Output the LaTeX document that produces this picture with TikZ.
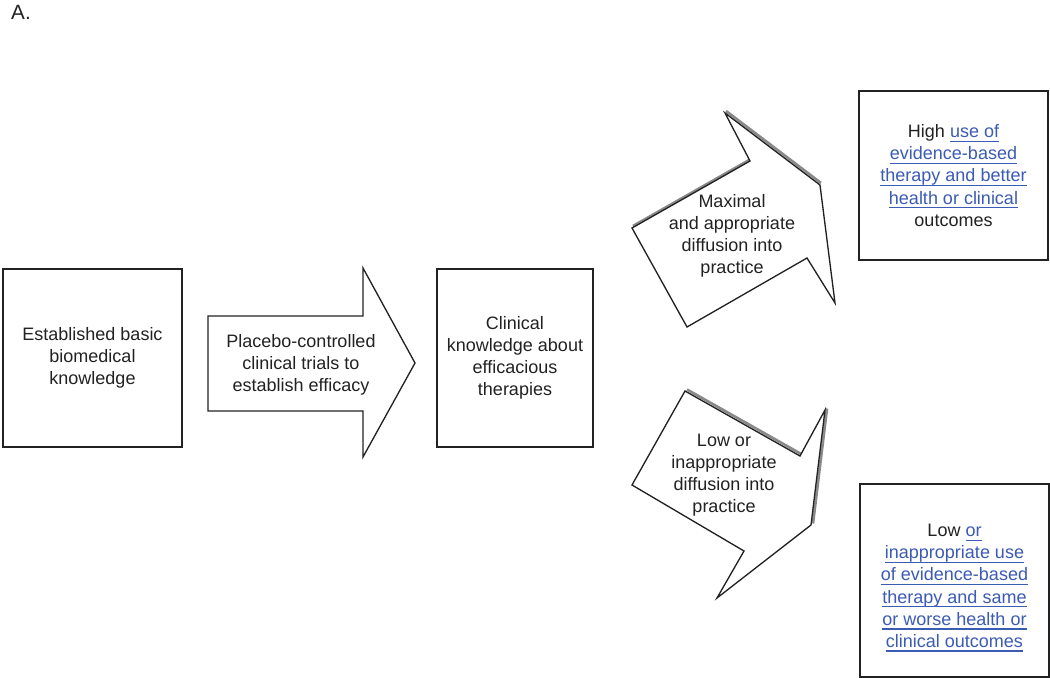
\documentclass[tikz,border=0pt]{standalone}
\usepackage{fontspec}
\setmainfont{Liberation Sans}
\usetikzlibrary{positioning}
\definecolor{LinkBlue}{HTML}{3B5BB4}
\definecolor{ShadowGray}{HTML}{8A8A8A}
\definecolor{InkGray}{HTML}{222222}
\newcommand{\lnk}[1]{\textcolor{LinkBlue}{\setbox0\hbox{#1}\rlap{\rule[-3.2pt]{\wd0}{0.9pt}}\box0}}

\begin{document}
\begin{tikzpicture}[x=0.75pt, y=-0.75pt, line join=miter, every node/.style={font=\fontsize{13.5}{16.6}\selectfont, align=center, text=InkGray}, stagebox/.style={draw=InkGray, line width=1.1pt, fill=white, inner sep=0pt}, bigarrow/.style={draw=InkGray, line width=1pt, fill=white}, arrowshadow/.style={draw=ShadowGray, line width=2pt}]
        \useasboundingbox (0,0) rectangle (1050,678);
        \node[font=\fontsize{15.5}{18}\selectfont] (panel) at (21,12) {A.};
        % boxes
        \node[stagebox, minimum width=134.25pt, minimum height=133.5pt] (basic) at (92.5,358) {Established basic\\biomedical\\knowledge};
        \node[stagebox, minimum width=117pt, minimum height=133.5pt] (clinical) at (515,358) {Clinical\\knowledge about\\efficacious\\therapies};
        \node[stagebox, minimum width=141.75pt, minimum height=126.75pt] (highbox) at (953.5,175.5) {High \lnk{use of}\\\lnk{evidence-based}\\\lnk{therapy and better}\\\lnk{health or clinical}\\outcomes};
        \node[stagebox, minimum width=141.75pt, minimum height=144.75pt] (lowbox) at (954.5,580.5) {};
        \node (lowout) at (954.5,588) {Low \lnk{or}\\\lnk{inappropriate use}\\\lnk{of evidence-based}\\\lnk{therapy and same}\\\lnk{or worse health or}\\\lnk{clinical outcomes}};
        % arrows
        \draw[bigarrow] (208,316) -- (363,316) -- (363,268) -- (415,363) -- (363,457) -- (363,411) -- (208,411) -- cycle;
        \node (trials) at (301,365) {Placebo-controlled\\clinical trials to\\establish efficacy};
        \begin{scope}[shift={(1,-2)}]
            \draw[arrowshadow] (632,228) -- (750,161) (725,113) -- (820,185);
        \end{scope}
        \draw[bigarrow] (632,228) -- (750,161) -- (725,113) -- (820,185) -- (835,303) -- (807,258) -- (687,327) -- cycle;
        \node (maximal) at (732,236) {Maximal\\and appropriate\\diffusion into\\practice};
        \begin{scope}[shift={(2,-1.5)}]
            \draw[arrowshadow] (685,391) -- (800,456) (825,410) -- (811,525);
        \end{scope}
        \draw[bigarrow] (685,391) -- (800,456) -- (825,410) -- (811,525) -- (717,598) -- (744,551) -- (632,485) -- cycle;
        \node (lowdiff) at (724,475) {Low or\\inappropriate\\diffusion into\\practice};
    \end{tikzpicture}
\end{document}
